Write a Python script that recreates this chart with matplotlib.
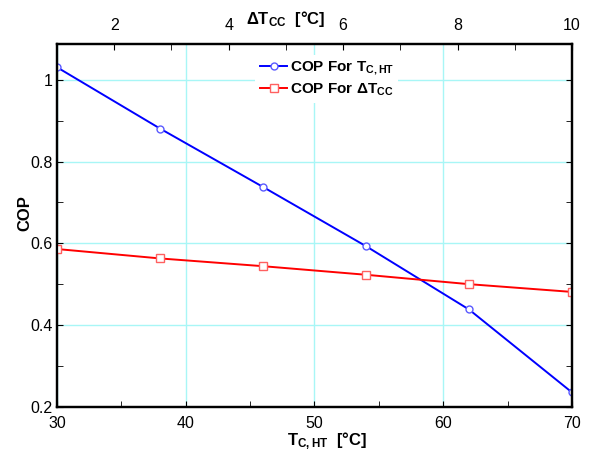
import matplotlib
matplotlib.use("Agg")
import matplotlib.pyplot as plt
from matplotlib.ticker import MultipleLocator, FormatStrFormatter

plt.rcParams["font.family"] = ["Liberation Sans", "DejaVu Sans"]
plt.rcParams["mathtext.fontset"] = "custom"
plt.rcParams["mathtext.rm"] = "Liberation Sans:bold"
plt.rcParams["mathtext.it"] = "Liberation Sans:bold"
plt.rcParams["mathtext.bf"] = "Liberation Sans:bold"

# data
t_cht = [30, 38, 46, 54, 62, 70]
cop_tcht = [1.031, 0.881, 0.738, 0.593, 0.438, 0.235]
dt_cc = [1.0, 2.8, 4.6, 6.4, 8.2, 10.0]
cop_dtcc = [0.586, 0.563, 0.544, 0.523, 0.500, 0.481]

GRID = "#a8f6f6"
BLUE = "#0000ff"
RED = "#ff0000"

fig = plt.figure(figsize=(5.9, 4.53), dpi=100)
ax = fig.add_axes([0.0966, 0.1022, 0.8729, 0.8007])
ax2 = ax.twiny()

l1, = ax.plot(t_cht, cop_tcht, color=BLUE, lw=1.4, marker="o", ms=5,
              mfc="white", mec="#5a5aff", mew=1.0, label=r"COP For T$_{C,HT}$")
l2, = ax2.plot(dt_cc, cop_dtcc, color=RED, lw=1.4, marker="s", ms=6,
               mfc="white", mec="#ff6060", mew=1.0, label=r"COP For $\Delta$T$_{CC}$")

ax.set_xlim(30, 70)
ax.set_ylim(0.2, 1.088)
ax2.set_xlim(1, 10)

ax.xaxis.set_major_locator(MultipleLocator(10))
ax.xaxis.set_minor_locator(MultipleLocator(5))
ax.yaxis.set_major_locator(MultipleLocator(0.2))
ax.yaxis.set_minor_locator(MultipleLocator(0.1))
ax.yaxis.set_major_formatter(FormatStrFormatter("%g"))
ax2.xaxis.set_major_locator(MultipleLocator(2))
ax2.xaxis.set_minor_locator(MultipleLocator(1))

ax.grid(True, which="major", color=GRID, lw=1.0)
ax.set_axisbelow(True)

ax.tick_params(which="both", direction="in", right=True, top=False, length=4, labelsize=11.5)
ax.tick_params(axis="x", pad=7)
ax.tick_params(axis="y", pad=3)
ax2.tick_params(which="both", direction="in", length=4, labelsize=11.5, pad=8)

for a in (ax, ax2):
    for s in a.spines.values():
        s.set_linewidth(1.6)

fig.text(0.042, 0.53, "COP", fontsize=12, fontweight="bold", rotation=90,
         ha="center", va="center")
fig.text(0.554, 0.026, r"T$_{C,HT}$  [°C]", fontsize=12, fontweight="bold",
         ha="center", va="center")
fig.text(0.485, 0.957, r"$\Delta$T$_{CC}$  [°C]", fontsize=12, fontweight="bold",
         ha="center", va="center")

leg = ax2.legend(handles=[l1, l2], loc="upper left", bbox_to_anchor=(0.37, 0.99),
                 fontsize=11, frameon=True, framealpha=1, handlelength=1.8,
                 handletextpad=0.15, borderpad=0.3, labelspacing=0.3)
leg.get_frame().set_linewidth(0)
for t in leg.get_texts():
    t.set_fontweight("bold")

fig.savefig("out.png", dpi=100)
